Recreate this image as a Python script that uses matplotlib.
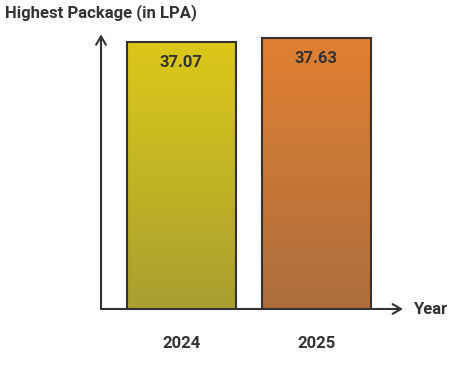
import numpy as np
import matplotlib.pyplot as plt
from matplotlib.colors import LinearSegmentedColormap

plt.rcParams['font.family'] = ['Roboto', 'DejaVu Sans']

years = ['2024', '2025']
packages = [37.07, 37.63]
top_colors = ['#dcc81a', '#e08032']
bottom_colors = ['#a89f2f', '#ad6e3c']
ink = '#333333'

fig = plt.figure(figsize=(4.75, 3.78), dpi=100)
# axes placed in pixel terms: y=0 at pixel row 309
ax = fig.add_axes([101 / 475, (378 - 309) / 378, (460 - 101) / 475, (309 - 30) / 378])
ymax = 38.75
ax.set_ylim(0, ymax)
ax.set_xlim(-0.596, 1 + (460 - 316.5) / 135)
ax.set_axis_off()

x = np.arange(len(years))
width = 109 / 135
bars = ax.bar(x, packages, width=width, color='none', edgecolor=ink, linewidth=1.5, zorder=3)

grad = np.linspace(1, 0, 256).reshape(-1, 1)
for b, c_top, c_bot, val in zip(bars, top_colors, bottom_colors, packages):
    cmap = LinearSegmentedColormap.from_list('g', [c_bot, c_top])
    x0 = b.get_x()
    im = ax.imshow(grad, cmap=cmap, aspect='auto', extent=[x0, x0 + b.get_width(), 0, val],
                   vmin=0, vmax=1, zorder=2)
    im.set_clip_path(b)
    ax.text(b.get_x() + b.get_width() / 2, val - 2.9, f'{val:.2f}', ha='center', va='center',
            fontsize=12, fontweight='bold', color=ink, zorder=4)

# axis arrows
x_left = -0.596
x_tip = 1 + (403 - 316.5) / 135
ax.annotate('', xy=(x_left, ymax - 0.6), xytext=(x_left, 0),
            arrowprops=dict(arrowstyle='->,head_length=0.6,head_width=0.35', color=ink, lw=1.5,
                            shrinkA=0, shrinkB=0), zorder=5)
ax.annotate('', xy=(x_tip, 0), xytext=(x_left, 0),
            arrowprops=dict(arrowstyle='->,head_length=0.6,head_width=0.35', color=ink, lw=1.5,
                            shrinkA=0, shrinkB=0), zorder=5)

for xi, yr in zip(x, years):
    fig.text((101 + (xi + 0.596) * 135) / 475, 1 - 343 / 378, yr, ha='center', va='center',
             fontsize=12, fontweight='bold', color=ink)

fig.text(413 / 475, 1 - 309 / 378, 'Year', ha='left', va='center',
         fontsize=12, fontweight='bold', color=ink)
fig.text(5 / 475, 1 - 13 / 378, 'Highest Package (in LPA)', ha='left', va='center',
         fontsize=12, fontweight='bold', color=ink)

fig.savefig('out.png', dpi=100)
